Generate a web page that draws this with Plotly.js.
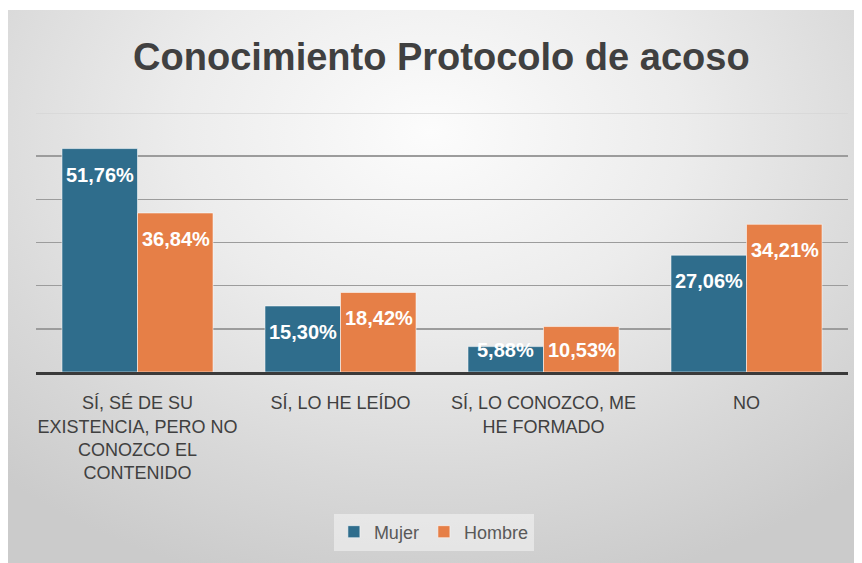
<!DOCTYPE html>
<html>
<head>
<meta charset="utf-8">
<script src="https://cdn.plot.ly/plotly-3.0.1.min.js"></script>
<style>
  html, body { margin: 0; padding: 0; background: #ffffff; }
  #bg { position: absolute; left: 8px; top: 10px; width: 846px; height: 553px;
        background: radial-gradient(ellipse 75% 85% at 50% 22%, #fcfcfc 0%, #ececec 40%, #d8d8d8 75%, #cbcbcb 100%); }
  #chart { position: absolute; left: 0; top: 0; width: 862px; height: 563px; }
</style>
</head>
<body>
<div id="bg"></div>
<div id="chart"></div>
<script>
const categories = [
  "SÍ, SÉ DE SU<br>EXISTENCIA, PERO NO<br>CONOZCO EL<br>CONTENIDO",
  "SÍ, LO HE LEÍDO",
  "SÍ, LO CONOZCO, ME<br>HE FORMADO",
  "NO"
];
const mujer = [51.76, 15.30, 5.88, 27.06];
const hombre = [36.84, 18.42, 10.53, 34.21];
const seriesNames = ["Mujer", "Hombre"];
const colors = ["#2f6d8c", "#e67f47"];

const yMax = 60;
const plotTop = 113, plotBottom = 372;
const pxPerUnit = (plotBottom - plotTop) / yMax;

function fmt(v) { return v.toFixed(2).replace('.', ',') + '%'; }

const traces = [mujer, hombre].map((vals, i) => ({
  type: 'bar',
  name: seriesNames[i],
  x: categories,
  y: vals,
  marker: { color: colors[i], line: { color: 'rgba(255,255,255,0.55)', width: 1 } },
  hoverinfo: 'skip'
}));

const annotations = [];
[mujer, hombre].forEach((vals, i) => {
  vals.forEach((v, j) => {
    annotations.push({
      x: categories[j], y: v, xref: 'x', yref: 'y',
      text: '<b>' + fmt(v) + '</b>',
      showarrow: false,
      xshift: i === 0 ? -38 : 38,
      yshift: -Math.min(26, v * pxPerUnit - 22),
      yanchor: 'middle', xanchor: 'center',
      font: { family: 'Liberation Sans, Arial, sans-serif', size: 20, color: '#ffffff' }
    });
  });
});

const layout = {
  width: 862, height: 563,
  paper_bgcolor: 'rgba(0,0,0,0)',
  plot_bgcolor: 'rgba(0,0,0,0)',
  margin: { l: 36, r: 14, t: plotTop, b: 563 - plotBottom },
  title: {
    text: '<b>Conocimiento Protocolo de acoso</b>',
    font: { family: 'Liberation Sans, Arial, sans-serif', size: 38, color: '#404040' },
    x: 0.512, xanchor: 'center', y: 1 - 57 / 563, yanchor: 'middle', yref: 'container', xref: 'container'
  },
  barmode: 'group',
  bargap: 0.256,
  bargroupgap: 0,
  xaxis: {
    showline: true, linecolor: '#3a3a3a', linewidth: 2.5,
    ticks: '', showgrid: false,
    ticklabelstandoff: 13,
    tickfont: { family: 'Liberation Sans, Arial, sans-serif', size: 18, color: '#404040' },
    fixedrange: true
  },
  yaxis: {
    range: [0, yMax],
    tickvals: [10, 20, 30, 40, 50],
    showticklabels: false,
    showgrid: true, gridcolor: '#9c9c9c', gridwidth: 1.5,
    zeroline: false, fixedrange: true
  },
  shapes: [{
    type: 'line', xref: 'paper', yref: 'y', x0: 0, x1: 1, y0: yMax, y1: yMax,
    line: { color: '#d6d6d6', width: 1.5 }
  }],
  annotations: annotations,
  showlegend: true,
  legend: {
    orientation: 'h', x: 0.49, xanchor: 'center', y: (plotBottom - 532) / (plotBottom - plotTop), yanchor: 'middle',
    bgcolor: 'rgba(245,245,245,0.55)', borderwidth: 0,
    font: { family: 'Liberation Sans, Arial, sans-serif', size: 18, color: '#595959' },
    itemclick: false, itemdoubleclick: false
  }
};

Plotly.newPlot('chart', traces, layout, { displayModeBar: false, staticPlot: true });
</script>
</body>
</html>
